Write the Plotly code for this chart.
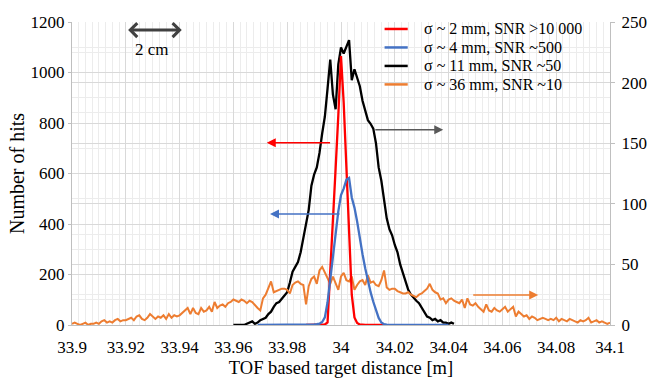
import numpy as np
import plotly.graph_objects as go

# ---------------- data ----------------
series_names = ["σ ~ 2 mm, SNR >10 000", "σ ~ 4 mm, SNR ~500",
                "σ ~ 11 mm, SNR ~50", "σ ~ 36 mm, SNR ~10"]
series_colors = ["#ff0000", "#4472c4", "#000000", "#ed7d31"]

bin_step = 0.001

red_start = 33.987
red_hits = [0, 0, 0, 0, 0, 0, 0, 2, 10, 200, 420, 620, 830, 1065, 880, 640,
            380, 120, 30, 8, 2, 0, 0, 0, 0, 0, 0, 0, 0, 0]

blue_start = 33.969
blue_hits = [0] * 19 + [1, 1, 2, 3,
             5, 12, 30, 90, 180, 270, 370, 450, 515, 540, 575, 582, 505, 465,
             410, 340, 280, 225, 175, 130, 92, 58, 28, 10, 3, 1] + [0] * 23

black_start = 33.960
black_hits = [0, 0, 0, 0, 0, 1, 2, 3, 1, 2,
              4, 5, 6, 9, 11, 15, 18, 19, 22, 25,
              27, 35, 44, 48, 52, 60, 72, 82, 95, 115,
              124, 130, 142, 158, 172, 195, 219, 190, 178, 215,
              229, 224, 230, 235, 202, 211, 204, 197, 185, 176,
              169, 166, 162, 150, 130, 119, 105, 88, 79, 74,
              66, 60, 50, 43, 36, 29, 25, 22, 20, 18,
              14, 10, 7, 6, 4, 5, 3, 4, 2, 2,
              1, 2, 1]

orange_start = 33.900
orange_hits = [1, 2, 1, 0, 1, 2, 0, 1, 1, 2, 1,
               3, 4, 2, 3, 2, 4, 5, 3, 4, 4,
               5, 6, 4, 7, 8, 5, 4, 6, 9, 7,
               5, 7, 6, 8, 5, 9, 6, 8, 7, 8,
               10, 12, 14, 9, 14, 10, 9, 14, 11, 12,
               15, 11, 19, 14, 16, 17, 15, 18, 19, 21,
               20, 19, 21, 20, 18, 20, 19, 16, 14, 12,
               22, 25, 30, 36, 27, 28, 29, 30, 30, 29,
               26, 33, 35, 36, 34, 33, 17, 32, 38, 40,
               34, 45, 48, 43, 38, 34, 40, 35, 29, 40,
               43, 37, 36, 40, 29, 33, 36, 37, 33, 41,
               35, 36, 33, 32, 37, 45, 31, 29, 30, 30,
               28, 27, 26, 26, 27, 25, 24, 23, 25, 26,
               28, 30, 34, 29, 27, 26, 21, 22, 18, 21,
               22, 20, 19, 18, 21, 14, 22, 17, 16, 18,
               15, 13, 11, 17, 12, 11, 14, 12, 11, 13,
               15, 11, 13, 15, 7, 11, 9, 7, 8, 5,
               7, 6, 4, 5, 6, 5, 4, 5, 4, 6,
               3, 5, 4, 3, 5, 4, 3, 2, 4, 3,
               4, 6, 2, 3, 4, 2, 3, 2, 1, 2]

x_tick_vals = [33.9, 33.92, 33.94, 33.96, 33.98, 34.0, 34.02, 34.04, 34.06, 34.08, 34.1]
x_tick_text = ["33.9", "33.92", "33.94", "33.96", "33.98", "34", "34.02", "34.04",
               "34.06", "34.08", "34.1"]
left_tick_vals = [0, 200, 400, 600, 800, 1000, 1200]
right_tick_vals = [0, 50, 100, 150, 200, 250]

# annotation arrows (data coordinates): (tail_x, head_x, level)
red_arrow = (33.9965, 33.9724, 722)      # left axis
blue_arrow = (34.0000, 33.9736, 440)     # left axis
black_arrow = (34.0122, 34.0380, 161)    # right axis
orange_arrow = (34.0486, 34.0733, 24.7)  # right axis
scale_arrow = (33.9203, 33.9408, 1168)   # left axis, "2 cm"
scale_label = (33.9296, 1090, "2 cm")


def bins(start, n):
    return np.round(start + bin_step * np.arange(n), 4)


FONT = "Liberation Serif"

fig = go.Figure()
# right-axis series (base subplot)
fig.add_trace(go.Scatter(x=bins(black_start, len(black_hits)), y=black_hits,
                         name=series_names[2], mode="lines", yaxis="y",
                         line=dict(color=series_colors[2], width=2.3)))
fig.add_trace(go.Scatter(x=bins(orange_start, len(orange_hits)), y=orange_hits,
                         name=series_names[3], mode="lines", yaxis="y",
                         line=dict(color=series_colors[3], width=2)))
# left-axis series (overlay, drawn on top)
fig.add_trace(go.Scatter(x=bins(red_start, len(red_hits)), y=red_hits,
                         name=series_names[0], mode="lines", yaxis="y2",
                         line=dict(color=series_colors[0], width=2.3)))
fig.add_trace(go.Scatter(x=bins(blue_start, len(blue_hits)), y=blue_hits,
                         name=series_names[1], mode="lines", yaxis="y2",
                         line=dict(color=series_colors[1], width=2.3)))

grid_major = "#d9d9d9"
grid_minor = "#ececec"
axis_col = "#bfbfbf"
tickfont = dict(family=FONT, size=17, color="#000000")

fig.update_layout(
    width=652, height=381,
    margin=dict(l=72, r=42, t=22, b=56, autoexpand=False),
    paper_bgcolor="white", plot_bgcolor="white",
    showlegend=False,
    font=dict(family=FONT, color="#000000"),
    xaxis=dict(range=[33.9, 34.1], tickvals=x_tick_vals, ticktext=x_tick_text,
               tickfont=tickfont, showline=True, linecolor=axis_col, linewidth=1,
               showgrid=True, gridcolor=grid_major, gridwidth=1, zeroline=False,
               ticks="", mirror=False, ticklabelstandoff=7, automargin=False,
               minor=dict(dtick=0.0025, tick0=33.9, showgrid=True, gridcolor=grid_minor),
               title=dict(text="TOF based target distance [m]",
                          font=dict(family=FONT, size=18.5), standoff=4)),
    yaxis=dict(range=[0, 250], side="right", tickvals=right_tick_vals,
               tickfont=tickfont, showline=True, linecolor=axis_col,
               ticks="outside", ticklen=4, tickcolor=axis_col, ticklabelstandoff=3,
               showgrid=True, gridcolor=grid_major, zeroline=False, automargin=False,
               minor=dict(dtick=25, showgrid=True, gridcolor=grid_minor)),
    yaxis2=dict(range=[0, 1200], side="left", overlaying="y", tickvals=left_tick_vals,
                tickfont=tickfont, showline=True, linecolor=axis_col,
                ticks="outside", ticklen=3, tickcolor=axis_col, automargin=False,
                showgrid=True, gridcolor=grid_major, zeroline=False,
                minor=dict(dtick=100, showgrid=True, gridcolor=grid_minor),
                title=dict(text="Number of hits", font=dict(family=FONT, size=20),
                           standoff=0)),
)

annos = []


def arrow(tail_x, head_x, level, yref, color, width, head, size, both=False):
    return dict(x=head_x, y=level, ax=tail_x, ay=level, xref="x", yref=yref,
                axref="x", ayref=yref, text="", showarrow=True,
                arrowhead=head, arrowsize=size, arrowwidth=width,
                arrowcolor=color, arrowside="end+start" if both else "end",
                startarrowhead=head, startarrowsize=size, standoff=0, startstandoff=0)


annos.append(arrow(*red_arrow, "y2", series_colors[0], 1.5, 2, 1.2))
annos.append(arrow(*blue_arrow, "y2", series_colors[1], 1.5, 2, 1.2))
annos.append(arrow(*black_arrow, "y", "#595959", 1.5, 2, 1.2))
annos.append(arrow(*orange_arrow, "y", series_colors[3], 1.5, 2, 1.2))
annos.append(arrow(scale_arrow[0], scale_arrow[1], scale_arrow[2], "y2", "#404040",
                   3, 4, 0.9, both=True))
annos.append(dict(x=scale_label[0], y=scale_label[1], xref="x", yref="y2",
                  text=scale_label[2], showarrow=False,
                  font=dict(family=FONT, size=17, color="#000000")))

# custom compact legend (text + line swatches) in plot-area fractions
leg_x0, leg_x1, leg_tx = 0.581, 0.624, 0.650
leg_rows = [0.977, 0.916, 0.855, 0.794]
shapes = []
for name, col, ry in zip(series_names, series_colors, leg_rows):
    shapes.append(dict(type="line", xref="paper", yref="paper",
                       x0=leg_x0, x1=leg_x1, y0=ry, y1=ry,
                       line=dict(color=col, width=2.5)))
    annos.append(dict(x=leg_tx, y=ry, xref="paper", yref="paper", text=name,
                      showarrow=False, xanchor="left", yanchor="middle",
                      font=dict(family=FONT, size=16, color="#000000")))

fig.update_layout(annotations=annos, shapes=shapes)

fig.write_html("out.html")
